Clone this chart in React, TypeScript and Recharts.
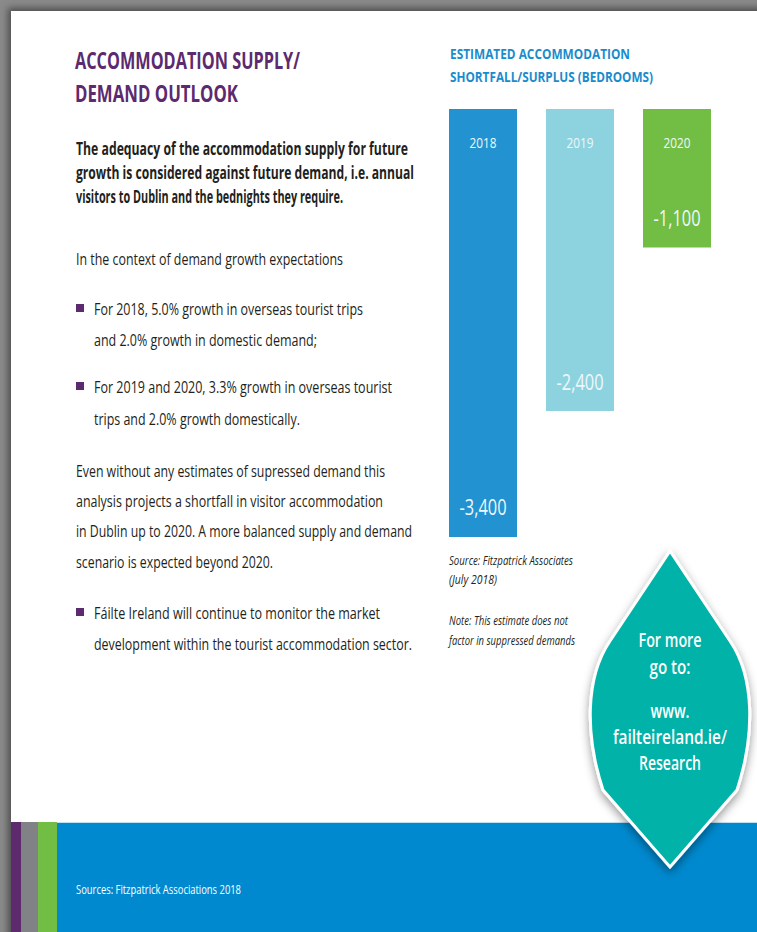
import React from "react";
import { BarChart, Bar, XAxis, YAxis, Cell, LabelList } from "recharts";

// shortfall per year (bedrooms)
const years = ["2018", "2019", "2020"];
const shortfall = [-3400, -2400, -1100];
const barColors = ["#2292d0", "#8dd3df", "#72bd44"];

const chartData = years.map((year, i) => ({ year, value: shortfall[i] }));

const FONT = "'Open Sans', 'Liberation Sans', sans-serif";
const SQUEEZE = 0.75; // horizontal squeeze, stands in for the condensed face

type STProps = {
  x: number;
  y: number; // vertical centre of the line
  w: number; // width the line takes in the original
  size: number;
  fill?: string;
  weight?: number | string;
  italic?: boolean;
  middle?: boolean;
  children: React.ReactNode;
};

const ST: React.FC<STProps> = ({ x, y, w, size, fill = "#231f20", weight = 400, italic, middle, children }) => (
  <g transform={`translate(${x},${y}) scale(${SQUEEZE},1)`}>
    <text
      x={0}
      y={0}
      textLength={w / SQUEEZE}
      lengthAdjust="spacingAndGlyphs"
      textAnchor={middle ? "middle" : "start"}
      dominantBaseline="central"
      fontFamily={FONT}
      fontSize={size}
      fontWeight={weight}
      fontStyle={italic ? "italic" : "normal"}
      fill={fill}
    >
      {children}
    </text>
  </g>
);

const YearLabel = (props: any) => {
  const { x, y, width, height, value } = props;
  const top = Math.min(y, y + height);
  return (
    <g transform={`translate(${x + width / 2},${top + 33}) scale(${SQUEEZE},1)`}>
      <text x={0} y={0} textAnchor="middle" dominantBaseline="central"
        textLength={27 / SQUEEZE} lengthAdjust="spacingAndGlyphs"
        fill="#eef7fb" fontSize={15} fontFamily={FONT}>
        {value}
      </text>
    </g>
  );
};

const ValueLabel = (props: any) => {
  const { x, y, width, height, value } = props;
  const bottom = Math.max(y, y + height);
  return (
    <g transform={`translate(${x + width / 2},${bottom - 30}) scale(${SQUEEZE},1)`}>
      <text x={0} y={0} textAnchor="middle" dominantBaseline="central"
        textLength={47 / SQUEEZE} lengthAdjust="spacingAndGlyphs"
        fill="#eef7fb" fontSize={22} fontFamily={FONT}>
        {Number(value).toLocaleString("en-US")}
      </text>
    </g>
  );
};

const App: React.FC = () => {
  return (
    <div style={{ position: "relative", width: 757, height: 932, overflow: "hidden", background: "#8a8a8a" }}>
      <style>{"body{margin:0}"}</style>
      {/* page */}
      <div style={{ position: "absolute", left: 11, top: 11, width: 780, height: 960, background: "#fff",
        boxShadow: "0 0 7px 3px rgba(0,0,0,0.45)" }} />

      {/* footer band */}
      <div style={{ position: "absolute", left: 11, top: 822, width: 760, height: 120, background: "#0089cf",
        borderTop: "1px solid #bfe0f2" }} />
      <div style={{ position: "absolute", left: 11, top: 822, width: 10, height: 120, background: "#5e2a6e" }} />
      <div style={{ position: "absolute", left: 21, top: 822, width: 17, height: 120, background: "#808285" }} />
      <div style={{ position: "absolute", left: 38, top: 822, width: 19, height: 120, background: "#72bd44" }} />

      <div style={{ position: "absolute", left: 434, top: 109 }}>
        <BarChart width={291} height={428} data={chartData} margin={{ top: 0, right: 0, bottom: 0, left: 0 }}>
          <XAxis dataKey="year" hide />
          <YAxis hide domain={[-3400, 0]} />
          <Bar dataKey="value" barSize={68} isAnimationActive={false}>
            {chartData.map((d, i) => (
              <Cell key={d.year} fill={barColors[i]} />
            ))}
            <LabelList dataKey="year" content={YearLabel} />
            <LabelList dataKey="value" content={ValueLabel} />
          </Bar>
        </BarChart>
      </div>

      <svg style={{ position: "absolute", left: 0, top: 0 }} width={757} height={932}>
        <defs>
          <filter id="sh" x="-30%" y="-20%" width="160%" height="150%">
            <feDropShadow dx="0" dy="4" stdDeviation="5" floodColor="#000" floodOpacity="0.4" />
          </filter>
        </defs>

        {/* left column */}
        <ST x={75} y={60} w={225} size={23} weight={700} fill="#5c2a6e">ACCOMMODATION SUPPLY/</ST>
        <ST x={75} y={93} w={163} size={23} weight={700} fill="#5c2a6e">DEMAND OUTLOOK</ST>

        <ST x={76} y={148} w={332} size={17} weight={700}>The adequacy of the accommodation supply for future</ST>
        <ST x={76} y={172} w={338} size={17} weight={700}>growth is considered against future demand, i.e. annual</ST>
        <ST x={76} y={196} w={267} size={17} weight={700}>visitors to Dublin and the bednights they require.</ST>

        <ST x={76} y={258} w={267} size={16.5}>In the context of demand growth expectations</ST>

        <rect x={76} y={304} width={8} height={8} fill="#5c2a6e" />
        <ST x={94} y={308} w={269} size={16.5}>For 2018, 5.0% growth in overseas tourist trips</ST>
        <ST x={94} y={339} w={223} size={16.5}>and 2.0% growth in domestic demand;</ST>

        <rect x={76} y={382} width={8} height={8} fill="#5c2a6e" />
        <ST x={94} y={386} w={298} size={16.5}>For 2019 and 2020, 3.3% growth in overseas tourist</ST>
        <ST x={94} y={418} w={206} size={16.5}>trips and 2.0% growth domestically.</ST>

        <ST x={76} y={470} w={309} size={16.5}>Even without any estimates of supressed demand this</ST>
        <ST x={76} y={500} w={307} size={16.5}>analysis projects a shortfall in visitor accommodation</ST>
        <ST x={76} y={530} w={336} size={16.5}>in Dublin up to 2020. A more balanced supply and demand</ST>
        <ST x={76} y={561} w={197} size={16.5}>scenario is expected beyond 2020.</ST>

        <rect x={76} y={608} width={8} height={8} fill="#5c2a6e" />
        <ST x={94} y={612} w={286} size={16.5}>Fáilte Ireland will continue to monitor the market</ST>
        <ST x={94} y={643} w={318} size={16.5}>development within the tourist accommodation sector.</ST>

        {/* chart column */}
        <ST x={450} y={53} w={180} size={15} weight={700} fill="#1a8ccc">ESTIMATED ACCOMMODATION</ST>
        <ST x={450} y={76} w={203} size={15} weight={700} fill="#1a8ccc">SHORTFALL/SURPLUS (BEDROOMS)</ST>

        <ST x={449} y={560} w={124} size={12} italic>Source: Fitzpatrick Associates</ST>
        <ST x={449} y={579} w={48} size={12} italic>(July 2018)</ST>
        <ST x={449} y={620} w={119} size={12} italic>Note: This estimate does not</ST>
        <ST x={449} y={640} w={126} size={12} italic>factor in suppressed demands</ST>

        <ST x={76} y={889} w={165} size={12} fill="#fff">Sources: Fitzpatrick Associations 2018</ST>

        {/* "for more" diamond */}
        <path
          d="M 670 551 L 610 641 C 585 678, 585 735, 603 790 L 670 867 L 737 790 C 755 735, 755 678, 730 641 Z"
          fill="#00b2a8" stroke="#fff" strokeWidth={3} filter="url(#sh)"
        />
        <ST x={670} y={640} w={63} size={19} weight={600} fill="#fff" middle>For more</ST>
        <ST x={670} y={667} w={41} size={19} weight={600} fill="#fff" middle>go to:</ST>
        <ST x={670} y={711} w={39} size={19} weight={600} fill="#fff" middle>www.</ST>
        <ST x={670} y={737} w={114} size={19} weight={600} fill="#fff" middle>failteireland.ie/</ST>
        <ST x={670} y={763} w={62} size={19} weight={600} fill="#fff" middle>Research</ST>
      </svg>
    </div>
  );
};

export default App;
